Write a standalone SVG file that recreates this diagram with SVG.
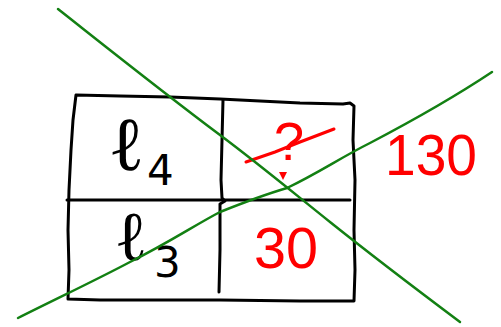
<svg xmlns="http://www.w3.org/2000/svg" width="501" height="327" viewBox="0 0 501 327">
<style>
.ink{fill:none;stroke:#000;stroke-width:3;stroke-linecap:round;stroke-linejoin:round}
.grn{fill:none;stroke:#138013;stroke-width:2.5;stroke-linecap:round}
.red{fill:none;stroke:#f00;stroke-width:3;stroke-linecap:round}
.ell{font-family:"Liberation Serif","DejaVu Serif",serif;fill:#000}
.lbl{font-family:"DejaVu Sans","Liberation Sans",sans-serif;fill:#000}
.num{font-family:"Liberation Sans",Arial,sans-serif;fill:#f00}
</style>
<rect width="501" height="327" fill="#fff"/>
<g id="table">
<path class="ink" d="M76,95 L120,96 L170,97 L220,99 L260,101 L300,103 L343,104 L350,103 L354,106 L353,140 L355,180 L354,230 L355,270 L354,301 L300,301 L220,300 L150,300 L100,300 L68,299 L69,270 L68,230 L69,190 L71,150 L73,120 L76,95 Z"/>
<path class="ink" d="M223,100 L222,140 L221,180 L222,198 L225,201 L220,204 L220,250 L219,292"/>
<path class="ink" d="M67,200 L150,200 L220,200 L290,200 L350,200"/>
</g>
<g id="l4"><text class="ell" x="108" y="170" font-size="76">ℓ</text><text class="lbl" x="147" y="185" font-size="42">4</text></g>
<g id="l3"><text class="ell" x="114" y="260" font-size="70">ℓ</text><text class="lbl" x="154" y="277" font-size="42">3</text></g>
<g id="q">
<text class="num" x="274" y="160" font-size="54">?</text>
<path class="red" d="M246,162 L275,152 L300,142 L334,129"/>
<path d="M279,172 L287,172 L283,180 Z" fill="#f00"/>
</g>
<g id="n30"><text class="num" x="254" y="268" font-size="58" textLength="64" lengthAdjust="spacingAndGlyphs">30</text></g>
<g id="n130"><text class="num" x="385" y="175" font-size="58" textLength="92" lengthAdjust="spacingAndGlyphs">130</text></g>
<g id="connectors">
<path class="grn" d="M58,9 C110,50 160,90 220,135 C260,165 290,190 330,222 C380,262 420,292 460,322"/>
<path class="grn" d="M18,318 C60,297 100,278 130,262 C170,242 195,225 220,212 C250,200 270,193 287,188 C320,172 340,158 370,143 C410,122 450,100 492,72"/>
</g>
</svg>
